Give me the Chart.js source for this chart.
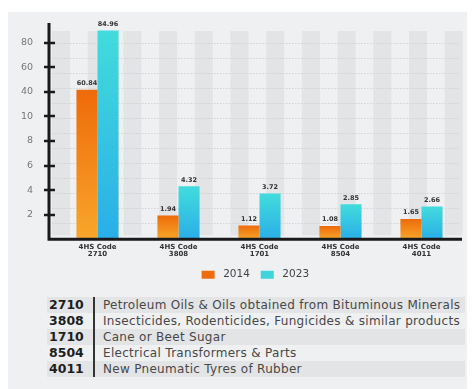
<!DOCTYPE html>
<html>
<head>
<meta charset="utf-8">
<script src="https://cdn.jsdelivr.net/npm/chart.js@4.4.1/dist/chart.umd.min.js"></script>
<style>
  html, body { margin: 0; padding: 0; background: #fff; }
  body { width: 475px; height: 389px; position: relative; overflow: hidden; font-family: "DejaVu Sans", sans-serif; }
  #panel { position: absolute; left: 8px; top: 12px; width: 459px; height: 377px; background: #eff0f2; }
  #wrap { position: absolute; left: 0; top: 0; width: 459px; height: 278px; }
  #codes { position: absolute; left: 39px; top: 285px; width: 418px; border-collapse: collapse; }
  #codes td { height: 16px; padding: 0; line-height: 16px; white-space: nowrap; }
  #codes tr:nth-child(odd) td { background: #e3e4e6; }
  #codes td.code { width: 44px; padding-left: 2px; font-weight: bold; font-size: 12.5px; color: #1e1e1e; }
  #codes td.desc { padding-left: 8px; font-size: 12px; letter-spacing: 0.3px; color: #484848; border-left: 2px solid #333; }
</style>
</head>
<body>
<div id="panel">
  <div id="wrap"><canvas id="chart"></canvas></div>
  <table id="codes"></table>
</div>
<script>
const categories = [['4HS Code', '2710'], ['4HS Code', '3808'], ['4HS Code', '1701'], ['4HS Code', '8504'], ['4HS Code', '4011']];
const values2014 = [60.84, 1.94, 1.12, 1.08, 1.65];
const values2023 = [84.96, 4.32, 3.72, 2.85, 2.66];
const seriesNames = ['2014', '2023'];

// the picture's y axis is broken: equal steps, but the upper labels jump
// (60.84 sits level with the "40" mark), so the label text and the value at each step differ
const yTickLabels = ['2', '4', '6', '8', '10', '40', '60', '80'];
const yTickValues = [2, 4, 6, 8, 10, 60, 70, 80];
const yMax = 88;

const tableCodes = ['2710', '3808', '1710', '8504', '4011'];
const tableNames = [
  'Petroleum Oils & Oils obtained from Bituminous Minerals',
  'Insecticides, Rodenticides, Fungicides & similar products',
  'Cane or Beet Sugar',
  'Electrical Transformers & Parts',
  'New Pneumatic Tyres of Rubber'
];

// table under the chart
const table = document.getElementById('codes');
tableCodes.forEach((c, i) => {
  const tr = document.createElement('tr');
  tr.innerHTML = '<td class="code"></td><td class="desc"></td>';
  tr.children[0].textContent = c;
  tr.children[1].textContent = tableNames[i];
  table.appendChild(tr);
});

const breaks = [0, ...yTickValues];
function toStep(v) {
  for (let i = 0; i < breaks.length - 1; i++) {
    if (v <= breaks[i + 1]) return i + (v - breaks[i]) / (breaks[i + 1] - breaks[i]);
  }
  const n = breaks.length - 1;
  return n - 1 + (v - breaks[n - 1]) / (breaks[n] - breaks[n - 1]);
}
function fromStep(s) {
  const i = Math.max(0, Math.min(breaks.length - 2, Math.floor(s)));
  return breaks[i] + (s - i) * (breaks[i + 1] - breaks[i]);
}

class BrokenScale extends Chart.LinearScale {
  static id = 'broken';
  static defaults = {};
  determineDataLimits() { this.min = 0; this.max = yMax; }
  buildTicks() { return yTickValues.map(v => ({ value: v })); }
  getPixelForValue(v) {
    if (v === null || v === undefined) return NaN;
    return this.getPixelForDecimal(toStep(v) / toStep(this.max));
  }
  getValueForPixel(p) { return fromStep(this.getDecimalForPixel(p) * toStep(this.max)); }
}
Chart.register(BrokenScale);

function barFill(ctx, top, bottom) {
  const chart = ctx.chart;
  const y = chart.scales && chart.scales.y;
  if (!y || ctx.raw == null || !chart.chartArea) return top;
  const yt = y.getPixelForValue(ctx.raw), yb = y.getPixelForValue(0);
  if (!isFinite(yt) || !isFinite(yb) || yb - yt < 1) return top;
  const g = chart.ctx.createLinearGradient(0, yt, 0, yb);
  g.addColorStop(0, top);
  g.addColorStop(1, bottom);
  return g;
}

const legendColors = ['#ef6c0c', '#3fd4dc'];
const AXIS_GAP = 8; // the y axis line stands a bit left of the first bar band

// striped backdrop, thick axes and cross ticks
const backdrop = {
  id: 'backdrop',
  afterLayout(chart) {
    // legend sits a little right of centre in the picture
    chart.legend.left += 22;
    chart.legend.right += 22;
  },
  beforeDatasetsDraw(chart) {
    const { ctx, chartArea: a } = chart;
    const x0 = a.left - AXIS_GAP;
    ctx.save();
    ctx.fillStyle = '#e3e4e6';
    for (let x = x0 + 3; x < a.right - 5; x += 35.7) {
      ctx.fillRect(x, a.top + 8, 18, a.bottom - a.top - 12);
    }
    ctx.strokeStyle = '#d2d3d6';
    ctx.lineWidth = 1;
    ctx.setLineDash([1.5, 1.5]);
    for (let y = a.top + 20; y < a.bottom - 4; y += 15) {
      ctx.beginPath();
      ctx.moveTo(x0 + 3, Math.round(y) + 0.5);
      ctx.lineTo(a.right - 2, Math.round(y) + 0.5);
      ctx.stroke();
    }
    ctx.restore();
  },
  afterDraw(chart) {
    const { ctx, chartArea: a } = chart;
    const y = chart.scales.y;
    const x0 = a.left - AXIS_GAP;
    ctx.save();
    ctx.strokeStyle = '#1a1a1a';
    ctx.lineWidth = 3;
    ctx.beginPath();
    ctx.moveTo(x0, a.top);
    ctx.lineTo(x0, a.bottom);
    ctx.lineTo(a.right, a.bottom);
    ctx.stroke();
    ctx.lineWidth = 2.5;
    y.ticks.forEach((t, i) => {
      const py = Math.round(y.getPixelForTick(i));
      ctx.beginPath();
      ctx.moveTo(x0 - 5, py);
      ctx.lineTo(x0 + 6, py);
      ctx.stroke();
    });
    ctx.restore();
  }
};

const valueLabels = {
  id: 'valueLabels',
  afterDatasetsDraw(chart) {
    const { ctx } = chart;
    ctx.save();
    ctx.font = 'bold 6.5px "DejaVu Sans"';
    ctx.fillStyle = '#333';
    ctx.textAlign = 'center';
    ctx.textBaseline = 'bottom';
    chart.data.datasets.forEach((ds, di) => {
      chart.getDatasetMeta(di).data.forEach((bar, i) => {
        ctx.fillText(ds.data[i].toFixed(2), bar.x, bar.y - 3);
      });
    });
    ctx.restore();
  }
};

new Chart(document.getElementById('chart'), {
  type: 'bar',
  data: {
    labels: categories,
    datasets: [
      {
        label: seriesNames[0],
        data: values2014,
        backgroundColor: ctx => barFill(ctx, '#ee6a0a', '#f8a72a'),
        barPercentage: 1,
        categoryPercentage: 0.52
      },
      {
        label: seriesNames[1],
        data: values2023,
        backgroundColor: ctx => barFill(ctx, '#42dcdc', '#2aaee8'),
        barPercentage: 1,
        categoryPercentage: 0.52
      }
    ]
  },
  options: {
    responsive: true,
    maintainAspectRatio: false,
    animation: false,
    layout: { padding: { top: 11, right: 5, left: 0, bottom: 0 } },
    plugins: {
      tooltip: { enabled: false },
      legend: {
        position: 'bottom',
        labels: {
          boxWidth: 13,
          boxHeight: 8,
          padding: 7.5,
          color: '#444',
          font: { family: 'DejaVu Sans', size: 10.5 },
          generateLabels: chart => Chart.defaults.plugins.legend.labels.generateLabels(chart)
            .map((l, i) => ({ ...l, text: ' ' + l.text + ' ', fillStyle: legendColors[i], strokeStyle: legendColors[i], lineWidth: 0 }))
        }
      }
    },
    scales: {
      x: {
        grid: { display: false, drawTicks: false },
        border: { display: false },
        ticks: {
          color: '#333',
          font: { family: 'DejaVu Sans', size: 7, weight: 'bold', lineHeight: 1.05 },
          padding: 4,
          maxRotation: 0
        }
      },
      y: {
        type: 'broken',
        grid: { display: false, drawTicks: false },
        border: { display: false },
        afterFit: s => { s.width = 41 + AXIS_GAP; s.paddingTop = 0; s.paddingBottom = 0; },
        ticks: {
          color: '#777',
          padding: 16 + AXIS_GAP,
          font: { family: 'DejaVu Sans', size: 9.5 },
          callback: (v, i) => yTickLabels[i]
        }
      }
    }
  },
  plugins: [backdrop, valueLabels]
});
</script>
</body>
</html>
